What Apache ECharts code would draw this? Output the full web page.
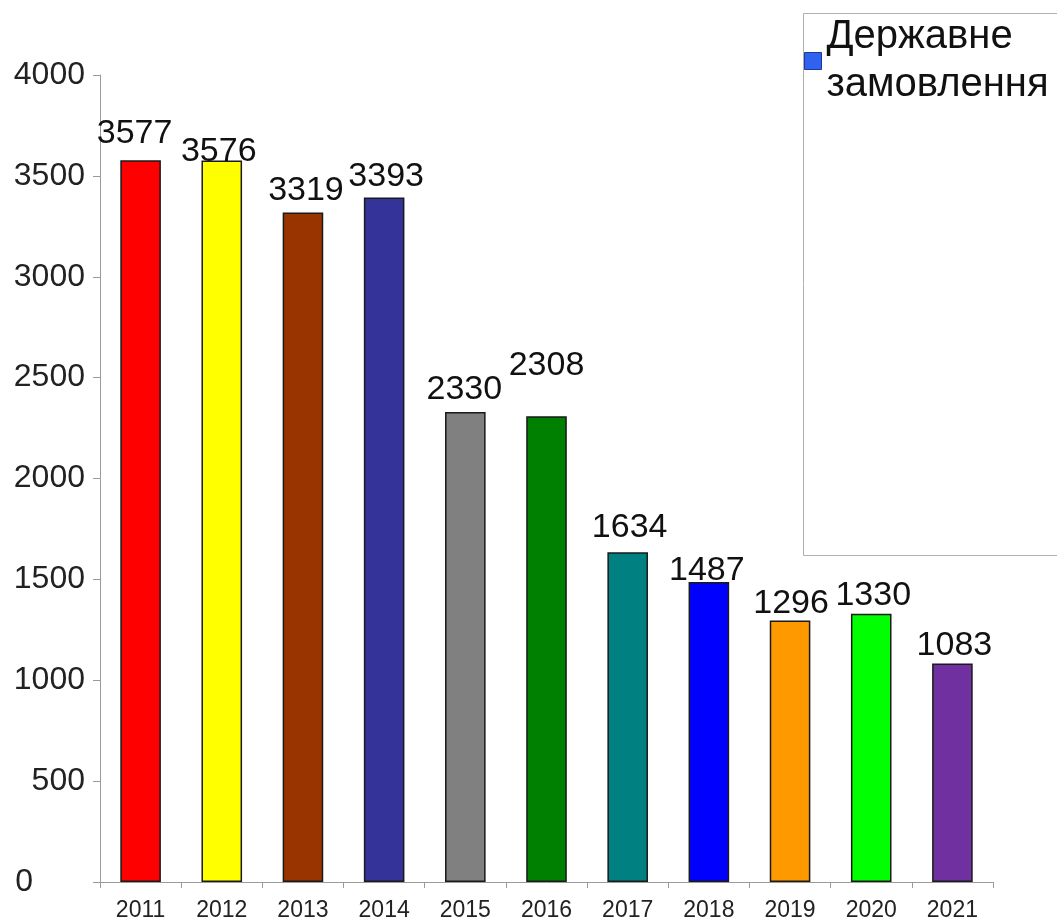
<!DOCTYPE html>
<html>
<head>
<meta charset="utf-8">
<script src="https://cdn.jsdelivr.net/npm/echarts@6/dist/echarts.min.js"></script>
<style>html,body{margin:0;padding:0;background:#fff}#c{width:1057px;height:917px}</style>
</head>
<body>
<div id="c"></div>
<script>
const categories = ['2011','2012','2013','2014','2015','2016','2017','2018','2019','2020','2021'];
const values = [3577, 3576, 3319, 3393, 2330, 2308, 1634, 1487, 1296, 1330, 1083];
const seriesName = 'Державне\nзамовлення';
const yTicks = { min: 0, max: 4000, interval: 500 };

const barColors = ['#ff0000','#ffff00','#993300','#333399','#808080','#008000','#008080','#0000ff','#ff9900','#00ff00','#7030a0'];
const labelOffsets = [[-6,-5],[-3,13],[3,0],[2,1],[-1,0],[0,-29],[2,-3],[-2,11],[1,5],[2,4],[2,4]];

const chart = echarts.init(document.getElementById('c'));
chart.setOption({
  animation: false,
  backgroundColor: '#fff',
  textStyle: { fontFamily: 'Liberation Sans, Arial, sans-serif' },
  grid: { left: 100, right: 64, top: 75, bottom: 35, containLabel: false, outerBoundsMode: 'none' },
  graphic: [{
    type: 'rect', left: 803, top: 13, z: -1,
    shape: { width: 300, height: 542 },
    style: { fill: '#fff', stroke: '#b0b0b0', lineWidth: 1 }
  }],
  legend: {
    left: 804, top: 10, padding: 0,
    icon: 'rect', itemWidth: 17, itemHeight: 17, itemGap: 0,
    itemStyle: { color: '#2f62ee', borderColor: '#1a3a9a', borderWidth: 1 },
    textStyle: { fontSize: 40, color: '#111', lineHeight: 48, padding: [6, 0, 0, 0] },
    data: [seriesName]
  },
  xAxis: {
    type: 'category', data: categories,
    axisLine: { lineStyle: { color: '#9a9a9a', width: 1 } },
    axisTick: { show: true, length: 6, lineStyle: { color: '#9a9a9a' } },
    axisLabel: { fontSize: 23, color: '#222', margin: 17 }
  },
  yAxis: {
    type: 'value', min: yTicks.min, max: yTicks.max, interval: yTicks.interval,
    splitLine: { show: false },
    axisLine: { show: true, lineStyle: { color: '#9a9a9a', width: 1 } },
    axisTick: { show: true, length: 7, lineStyle: { color: '#9a9a9a' } },
    axisLabel: {
      fontSize: 32, color: '#222', margin: 15,
      formatter: v => v === 0 ? '{z|0}' : String(v),
      rich: { z: { fontSize: 32, color: '#222', padding: [0, 52, 0, 0] } }
    }
  },
  series: [{
    name: seriesName, type: 'bar', barWidth: '50%',
    itemStyle: { color: '#2f62ee' },
    data: values.map((v, i) => ({
      value: v,
      itemStyle: { color: barColors[i], borderColor: '#1a1a1a', borderWidth: 1.5 },
      label: { offset: labelOffsets[i] }
    })),
    label: { show: true, position: 'top', distance: 5, fontSize: 34, color: '#111' }
  }]
});
</script>
</body>
</html>
